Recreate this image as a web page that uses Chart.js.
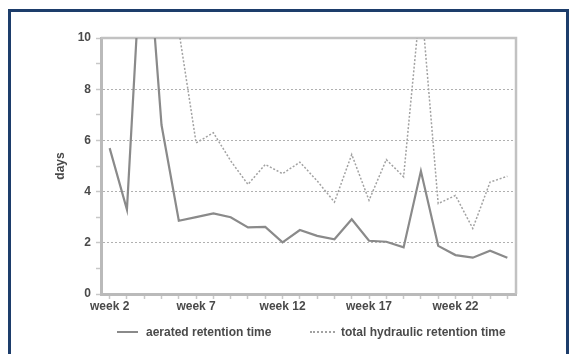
<!DOCTYPE html>
<html>
<head>
<meta charset="utf-8">
<script src="https://cdn.jsdelivr.net/npm/chart.js@4"></script>
<style>
  html, body { margin: 0; padding: 0; background: #fff; overflow: hidden; }
  body { width: 571px; height: 354px; position: relative; font-family: "Liberation Sans", Arial, sans-serif; }
  #frame { position: absolute; left: 8px; top: 9px; width: 555px; height: 400px; border: 3px solid #1d3d6b; border-bottom: none; box-sizing: content-box; }
  #chart { position: absolute; left: 0; top: 0; }
  .lg-line { position: absolute; height: 0; }
  .lg-text { position: absolute; font: bold 12px "Liberation Sans", Arial, sans-serif; color: #4a4a4a; line-height: 14px; white-space: nowrap; }
</style>
</head>
<body>
<div id="frame"></div>
<canvas id="chart" width="571" height="354"></canvas>
<div id="legend"></div>
<script>
// Weekly retention times (days)
const weeks = ["week 2", "week 3", "week 4", "week 5", "week 6", "week 7", "week 8", "week 9",
  "week 10", "week 11", "week 12", "week 13", "week 14", "week 15", "week 16", "week 17",
  "week 18", "week 19", "week 20", "week 21", "week 22", "week 23", "week 24", "week 25"];
const aeratedRetention = [5.7, 3.3, 15.5, 6.6, 2.86, 3.0, 3.15, 3.0, 2.6, 2.62, 2.02, 2.5,
  2.27, 2.14, 2.92, 2.08, 2.04, 1.82, 4.8, 1.88, 1.52, 1.42, 1.69, 1.42];
const totalHydraulicRetention = [null, null, null, null, 10.3, 5.9, 6.3, 5.2, 4.28, 5.06, 4.7, 5.15,
  4.42, 3.59, 5.45, 3.66, 5.25, 4.58, 11.6, 3.53, 3.85, 2.56, 4.37, 4.6];
const yTickValues = [0, 2, 4, 6, 8, 10];
const seriesNames = ["aerated retention time", "total hydraulic retention time"];

const tickFont = { family: "'Liberation Sans', Arial, sans-serif", size: 12, weight: "bold" };
const textColor = "#4a4a4a";

// Box outline on the top and right sides of the plot area
const plotBox = {
  id: "plotBox",
  beforeDatasetsDraw(chart) {
    const { ctx, chartArea: a } = chart;
    ctx.save();
    ctx.strokeStyle = "#c2c2c2";
    ctx.lineWidth = 2.5;
    ctx.beginPath();
    ctx.moveTo(a.left, a.top);
    ctx.lineTo(a.right, a.top);
    ctx.lineTo(a.right, a.bottom);
    ctx.stroke();
    ctx.restore();
  }
};

const chart = new Chart(document.getElementById("chart"), {
  type: "line",
  data: {
    labels: weeks,
    datasets: [
      {
        label: seriesNames[0],
        data: aeratedRetention,
        borderColor: "#8a8a8a",
        borderWidth: 2.2,
        pointRadius: 0,
        tension: 0
      },
      {
        label: seriesNames[1],
        data: totalHydraulicRetention,
        borderColor: "#a2a2a2",
        borderWidth: 1.5,
        borderDash: [2, 1.8],
        pointRadius: 0,
        tension: 0
      }
    ]
  },
  options: {
    responsive: false,
    animation: false,
    events: [],
    layout: { padding: { left: 53, right: 55, top: 38, bottom: 40 } },
    plugins: { legend: { display: false }, tooltip: { enabled: false } },
    scales: {
      x: {
        offset: true,
        afterFit(s) { s.height = 20; },
        grid: { drawOnChartArea: false, tickLength: 5, tickColor: "#c8c8c8", tickWidth: 1.5 },
        border: { color: "#bababa", width: 3 },
        ticks: {
          autoSkip: false,
          maxRotation: 0,
          padding: 0,
          color: textColor,
          font: tickFont,
          callback(value, index) { return index % 5 === 0 ? weeks[index] : ""; }
        }
      },
      y: {
        min: 0,
        max: 10,
        afterFit(s) { s.width = 48; },
        title: { display: true, text: "days", color: textColor, font: tickFont, padding: { top: 0, bottom: 0 } },
        grid: {
          color(ctx) {
            const v = ctx.tick && ctx.tick.value;
            return (v > 0 && v < 10 && v % 2 === 0) ? "#b0b0b0" : "rgba(0,0,0,0)";
          },
          lineWidth: 1,
          tickLength: 5,
          tickColor: "#c8c8c8",
          tickWidth: 1.5,
          tickBorderDash: []
        },
        border: { color: "#bababa", width: 3, dash: [2, 2] },
        ticks: {
          stepSize: 1,
          padding: 5,
          color: textColor,
          font: tickFont,
          callback(value) { return yTickValues.includes(value) ? String(value) : ""; }
        }
      }
    }
  },
  plugins: [plotBox]
});

// Legend below the plot, built from the datasets
const legendPos = [
  { line: 117, width: 21, text: 146 },
  { line: 310, width: 25, text: 341 }
];
const legend = document.getElementById("legend");
chart.data.datasets.forEach((ds, i) => {
  const p = legendPos[i];
  const line = document.createElement("div");
  line.className = "lg-line";
  line.style.left = p.line + "px";
  line.style.top = "331px";
  line.style.width = p.width + "px";
  line.style.borderTop = (ds.borderDash ? "2px dotted " : "2px solid ") + ds.borderColor;
  legend.appendChild(line);
  const txt = document.createElement("div");
  txt.className = "lg-text";
  txt.style.left = p.text + "px";
  txt.style.top = "325px";
  txt.textContent = ds.label;
  legend.appendChild(txt);
});
</script>
</body>
</html>
